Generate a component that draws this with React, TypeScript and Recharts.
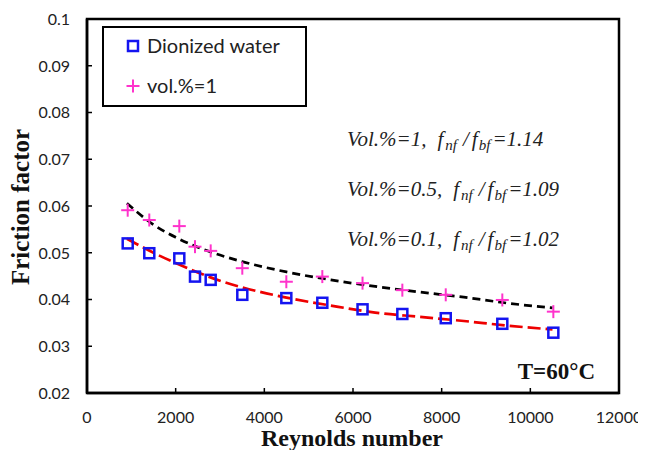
import React from 'react';
import { ComposedChart, XAxis, YAxis, Scatter, Line, ReferenceArea, Legend } from 'recharts';

// ---------- data ----------
const reynolds = [918, 1405, 2082, 2436, 2790, 3503, 4496, 5308, 6215, 7113, 8092, 9368, 10519];
const waterFriction = [0.0520, 0.0499, 0.0488, 0.0449, 0.0442, 0.0410, 0.0403, 0.0393, 0.0379, 0.0369, 0.0360, 0.0348, 0.0329];
const vol1Friction = [0.0591, 0.0570, 0.0557, 0.0513, 0.0504, 0.0467, 0.0438, 0.0449, 0.0435, 0.0420, 0.0410, 0.0399, 0.0374];

const fitReynolds = [900, 1500, 2000, 2500, 3000, 3500, 4500, 5500, 6500, 7500, 8500, 9500, 10500];
const vol1Fit = [0.0606, 0.0560, 0.0533, 0.0512, 0.0495, 0.0481, 0.0459, 0.0442, 0.0428, 0.0416, 0.0405, 0.0392, 0.0382];
const waterFit = [0.0530, 0.0500, 0.0478, 0.0458, 0.0440, 0.0426, 0.0404, 0.0387, 0.0372, 0.0363, 0.0354, 0.0344, 0.0336];

const xTicks = [0, 2000, 4000, 6000, 8000, 10000, 12000];
const yTicks = [0.02, 0.03, 0.04, 0.05, 0.06, 0.07, 0.08, 0.09, 0.1];

const seriesNames = ['Dionized water', 'vol.%=1'];
const annotations = [
  { vol: '1', ratio: '1.14' },
  { vol: '0.5', ratio: '1.09' },
  { vol: '0.1', ratio: '1.02' },
];
const tempLabel = 'T=60°C';

const waterData = reynolds.map((re, i) => ({ re, f: waterFriction[i] }));
const vol1Data = reynolds.map((re, i) => ({ re, f: vol1Friction[i] }));
const vol1FitData = fitReynolds.map((re, i) => ({ re, f: vol1Fit[i] }));
const waterFitData = fitReynolds.map((re, i) => ({ re, f: waterFit[i] }));

// ---------- styles ----------
const BLUE = '#1414f0';
const PINK = '#ff33cc';
const W = 638;
const H = 442;
const TICK_FONT = 'Lato, "Open Sans", sans-serif';
const SERIF = '"Liberation Serif", "Times New Roman", serif';

const SquareShape = (props: any) => {
  const { cx, cy } = props;
  if (cx == null || cy == null) return null;
  return <rect x={cx - 5} y={cy - 5} width={10} height={10} fill="none" stroke={BLUE} strokeWidth={2.5} />;
};

const PlusShape = (props: any) => {
  const { cx, cy } = props;
  if (cx == null || cy == null) return null;
  return (
    <g stroke={PINK} strokeWidth={2}>
      <line x1={cx - 6.5} x2={cx + 6.5} y1={cy} y2={cy} />
      <line x1={cx} x2={cx} y1={cy - 6.5} y2={cy + 6.5} />
    </g>
  );
};

const YTick = (props: any) => {
  const { x, y, payload } = props;
  return (
    <g>
      <line x1={x} x2={x + 5} y1={y} y2={y} stroke="#000" strokeWidth={1.5} />
      <text x={x - 17} y={y} dy="0.36em" textAnchor="end" fontFamily={TICK_FONT} fontSize={16} fill="#222">
        {String(payload.value)}
      </text>
    </g>
  );
};

const XTick = (props: any) => {
  const { x, y, payload } = props;
  return (
    <g>
      <line x1={x} x2={x} y1={y} y2={y - 5} stroke="#000" strokeWidth={1.5} />
      <text x={x} y={y + 30} textAnchor="middle" fontFamily={TICK_FONT} fontSize={16} fill="#222">
        {String(payload.value)}
      </text>
    </g>
  );
};

const LegendBox = () => (
  <div
    style={{
      width: 205,
      height: 81,
      boxSizing: 'border-box',
      border: '2.5px solid #000',
      background: '#fff',
      position: 'relative',
    }}
  >
    <svg width={205} height={81} style={{ position: 'absolute', left: -2.5, top: -2.5 }}>
      <rect x={26} y={15} width={10} height={10} fill="none" stroke={BLUE} strokeWidth={2.5} />
      <g stroke={PINK} strokeWidth={2}>
        <line x1={24.5} x2={37.5} y1={60} y2={60} />
        <line x1={31} x2={31} y1={53.5} y2={66.5} />
      </g>
      <text x={45} y={27} fontFamily={TICK_FONT} fontSize={20} fill="#222">{seriesNames[0]}</text>
      <text x={45} y={67} fontFamily={TICK_FONT} fontSize={20} fill="#222">{seriesNames[1]}</text>
    </svg>
  </div>
);

const Annotation = ({ x, y, vol, ratio }: { x: number; y: number; vol: string; ratio: string }) => (
  <text x={x} y={y} fontFamily={SERIF} fontStyle="italic" fontSize={21} fill="#222">
    <tspan>{`Vol.%=${vol},`}</tspan>
    <tspan dx={11}>f</tspan>
    <tspan fontSize={15} dy={4} dx={2}>nf</tspan>
    <tspan dy={-4} dx={6}>/</tspan>
    <tspan dx={3}>f</tspan>
    <tspan fontSize={15} dy={4} dx={1}>bf</tspan>
    <tspan dy={-4} dx={2}>{`=${ratio}`}</tspan>
  </text>
);

export default function App() {
  return (
    <div style={{ position: 'relative', width: W, height: H }}>
      <ComposedChart width={W} height={H} margin={{ top: 11, right: 27, bottom: 0, left: 0 }}>
        <XAxis
          type="number"
          dataKey="re"
          domain={[0, 12000]}
          ticks={xTicks}
          allowDataOverflow
          height={57}
          tickSize={0}
          tickMargin={0}
          tickLine={false}
          axisLine={{ stroke: '#000', strokeWidth: 2.5 }}
          tick={<XTick />}
          interval={0}
        />
        <YAxis
          type="number"
          dataKey="f"
          domain={[0.02, 0.1]}
          ticks={yTicks}
          allowDataOverflow
          width={79}
          tickSize={0}
          tickMargin={0}
          tickLine={false}
          axisLine={{ stroke: '#000', strokeWidth: 2.5 }}
          tick={<YTick />}
          interval={0}
        />
        <ReferenceArea x1={0} x2={12000} y1={0.02} y2={0.1} fill="none" fillOpacity={0} stroke="#000" strokeWidth={2.5} />
        <Scatter name={seriesNames[0]} data={waterData} dataKey="f" shape={<SquareShape />} isAnimationActive={false} />
        <Scatter name={seriesNames[1]} data={vol1Data} dataKey="f" shape={<PlusShape />} isAnimationActive={false} />
        <Line
          data={waterFitData}
          dataKey="f"
          type="monotone"
          stroke="#ee0000"
          strokeWidth={2.7}
          strokeDasharray="13 5"
          dot={false}
          activeDot={false}
          legendType="none"
          isAnimationActive={false}
        />
        <Line
          data={vol1FitData}
          dataKey="f"
          type="monotone"
          stroke="#000"
          strokeWidth={2.7}
          strokeDasharray="8 5"
          dot={false}
          activeDot={false}
          legendType="none"
          isAnimationActive={false}
        />
        <Legend
          layout="horizontal"
          verticalAlign="middle"
          align="center"
          wrapperStyle={{ left: 94, top: 18, width: 205, height: 81 }}
          content={() => <LegendBox />}
        />
      </ComposedChart>
      <svg width={W} height={H} style={{ position: 'absolute', left: 0, top: 0, pointerEvents: 'none' }}>
        <text
          transform="translate(21,199) rotate(-90)"
          textAnchor="middle"
          fontFamily={SERIF}
          fontWeight="bold"
          fontSize={25}
          fill="#111"
        >
          Friction factor
        </text>
        <text x={344} y={438} textAnchor="middle" fontFamily={SERIF} fontWeight="bold" fontSize={24} fill="#111">
          Reynolds number
        </text>
        {annotations.map((a, i) => (
          <Annotation key={i} x={339} y={138 + i * 50} vol={a.vol} ratio={a.ratio} />
        ))}
        <text x={587} y={371} textAnchor="end" fontFamily={SERIF} fontWeight="bold" fontSize={23} fill="#111">
          {tempLabel}
        </text>
      </svg>
    </div>
  );
}
